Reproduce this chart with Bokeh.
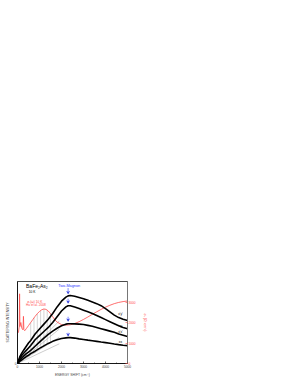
from bokeh.plotting import figure
from bokeh.models import Range1d, LinearAxis, FixedTicker, Arrow, VeeHead, Label
from bokeh.embed import file_html
from bokeh.resources import INLINE

# ---- data ----
energy = [0, 100, 200, 300, 400, 500, 600, 800, 1000, 1200, 1400, 1600, 1800, 2000, 2200, 2300,
          2400, 2600, 2800, 3000, 3200, 3400, 3600, 3800, 4000, 4200, 4400, 4600, 4800, 5000]
curve_a = [0, 8, 13, 17, 21, 25, 28, 36, 42, 48, 54, 61, 69, 76, 81, 82.5,
           83, 82, 80.5, 79, 77, 75, 73, 70.5, 67, 63, 59, 56, 54, 52.5]
curve_b = [0, 6, 10, 13, 16, 19, 22, 29, 34, 39, 44, 50, 57, 64, 69, 70.5,
           70.5, 69, 67, 65, 63, 61, 58.5, 56, 53.5, 51, 48.5, 46, 44, 42.5]
curve_c = [0, 4, 7, 9.5, 12, 14, 16, 21, 26, 31, 35.5, 39.5, 43, 46, 48, 48.5,
           48.5, 48.3, 48, 47.5, 46.5, 45.5, 44, 42.5, 41, 39.5, 38, 36, 34.5, 33]
curve_d = [0, 2.5, 4.5, 6.5, 8.5, 10, 12, 15, 18.5, 21.5, 24.5, 27, 29, 30.5, 31.3, 31.5,
           31.5, 31, 30, 29.3, 28.5, 27.8, 27, 26.2, 25.5, 24.7, 23.8, 23, 22.3, 21.8]
curve_labels = ["x'y'", "xy", "x'x'", "xx"]
label_e = [4680, 4680, 4680, 4680]
label_v = [60.4, 46.3, 38.6, 26.8]

# optical conductivity (Hu et al. 2008), right axis
sigma_e = [40, 80, 95, 110, 150, 200, 250, 270, 290, 330, 400, 500, 600, 700, 800, 900, 1000,
           1100, 1200, 1300, 1400, 1500, 1600, 1700, 1800, 2000, 2200, 2400, 2600, 2800, 3000,
           3200, 3400, 3600, 3800, 4000, 4200, 4400, 4600, 4800, 5000]
sigma_1 = [1500, 1800, 3400, 1800, 2000, 1700, 1650, 2300, 1650, 1600, 1700, 1850, 2000, 2150,
           2300, 2430, 2540, 2620, 2660, 2640, 2560, 2430, 2280, 2130, 2020, 1900, 1870, 1890,
           1950, 2040, 2150, 2270, 2400, 2520, 2640, 2750, 2840, 2920, 2980, 3020, 3050]

# gray straight guide lines from origin
fan_end_e = [1900, 1900, 1900, 1900]
fan_end_v = [52, 42, 32, 24]
# vertical gray lines under the conductivity bump
hatch_e = [600, 750, 900, 1050, 1200, 1350, 1500]

# two-magnon arrows
arrow_e = [2300, 2300, 2300, 2300]
arrow_top = [92, 79, 57, 37.5]
arrow_bot = [85, 73.5, 51.5, 33.5]

x_ticks = [0, 1000, 2000, 3000, 4000, 5000]
x_minor = [500, 1500, 2500, 3500, 4500]
s_ticks = [0, 1000, 2000, 3000]

RED = "#ff4a4a"
BLUE = "#2b3cff"
FONT = "Liberation Sans"

p = figure(frame_width=110, frame_height=82, x_range=Range1d(0, 5000), y_range=Range1d(0, 100),
           output_backend="svg", toolbar_location=None,
           min_border_top=281, min_border_left=17, min_border_right=2, min_border_bottom=2)
p.grid.visible = False
p.outline_line_color = "black"
p.outline_line_width = 0.7
p.extra_y_ranges = {"s": Range1d(0, 4000)}

def interp(xs, ys, x):
    for i in range(len(xs) - 1):
        if xs[i] <= x <= xs[i + 1]:
            t = (x - xs[i]) / (xs[i + 1] - xs[i])
            return ys[i] + t * (ys[i + 1] - ys[i])
    return ys[-1]

# fan lines
p.segment(x0=[0] * 4, y0=[0] * 4, x1=fan_end_e, y1=fan_end_v, line_color="#999999", line_width=0.5)
# hatch lines: from conductivity curve (scaled to left units) down to lowest curve
h_top = [interp(sigma_e, sigma_1, e) / 40.0 for e in hatch_e]
h_bot = [interp(energy, curve_d, e) for e in hatch_e]
p.segment(x0=hatch_e, y0=h_bot, x1=hatch_e, y1=h_top, line_color="#aaaaaa", line_width=0.5)

# conductivity
p.line(sigma_e, sigma_1, y_range_name="s", line_color=RED, line_width=0.8)

# spectra
for c in [curve_a, curve_b, curve_c, curve_d]:
    p.line(energy, c, line_color="black", line_width=1.6)

p.text(x=label_e, y=label_v, text=curve_labels, text_font_size="3.3px", text_color="black",
       text_align="center", text_baseline="middle", text_font={"value": FONT})

# arrows
for e, t, b in zip(arrow_e, arrow_top, arrow_bot):
    p.add_layout(Arrow(end=VeeHead(size=2.5, line_color=BLUE, line_width=0.6),
                       x_start=e, y_start=t, x_end=e, y_end=b, line_color=BLUE, line_width=0.6))

p.add_layout(Label(x=2350, y=95, text="Two-Magnon", text_font_size="3.8px", text_color=BLUE,
                   text_align="center", text_baseline="middle", text_font=FONT))
p.add_layout(Label(x=388, y=95, text="BaFe₂As₂", text_font_size="5px", text_color="black",
                   text_align="left", text_baseline="middle", text_font=FONT))
p.add_layout(Label(x=660, y=87.8, text="10 K", text_font_size="3.3px", text_color="black",
                   text_align="center", text_baseline="middle", text_font=FONT))
p.add_layout(Label(x=440, y=75.6, text="σ₁(ω)   10 K", text_font_size="3.2px", text_color=RED,
                   text_align="left", text_baseline="middle", text_font=FONT))
p.add_layout(Label(x=388, y=71.3, text="Hu et al. 2008", text_font_size="3.2px", text_color=RED,
                   text_align="left", text_baseline="middle", text_font=FONT))

# axes styling
xa = p.xaxis[0]
xa.ticker = FixedTicker(ticks=x_ticks, minor_ticks=x_minor)
xa.axis_label = "ENERGY SHIFT (cm⁻¹)"
ya = p.yaxis[0]
ya.ticker = FixedTicker(ticks=[0])
ya.axis_label = "SCATTERING INTENSITY"

ra = LinearAxis(y_range_name="s", ticker=FixedTicker(ticks=s_ticks), axis_label="σ₁ (Ω⁻¹cm⁻¹)")
p.add_layout(ra, "right")

for ax in [xa, ya, ra]:
    ax.major_label_text_font_size = "3.2px"
    ax.axis_label_text_font_size = "3.4px"
    ax.axis_label_text_font_style = "normal"
    ax.major_label_text_font = FONT
    ax.axis_label_text_font = FONT
    ax.major_tick_in = 2
    ax.major_tick_out = 0
    ax.minor_tick_in = 1
    ax.minor_tick_out = 0
    ax.major_label_standoff = 1
    ax.axis_label_standoff = 2
    ax.axis_line_width = 0.7
    ax.major_tick_line_width = 0.6
    ax.minor_tick_line_width = 0.5

ra.axis_line_color = "#888888"
ra.major_tick_line_color = RED
ra.major_label_text_color = RED
ra.axis_label_text_color = RED
ra.axis_label_standoff = 4

open("out.html", "w").write(file_html(p, INLINE))
